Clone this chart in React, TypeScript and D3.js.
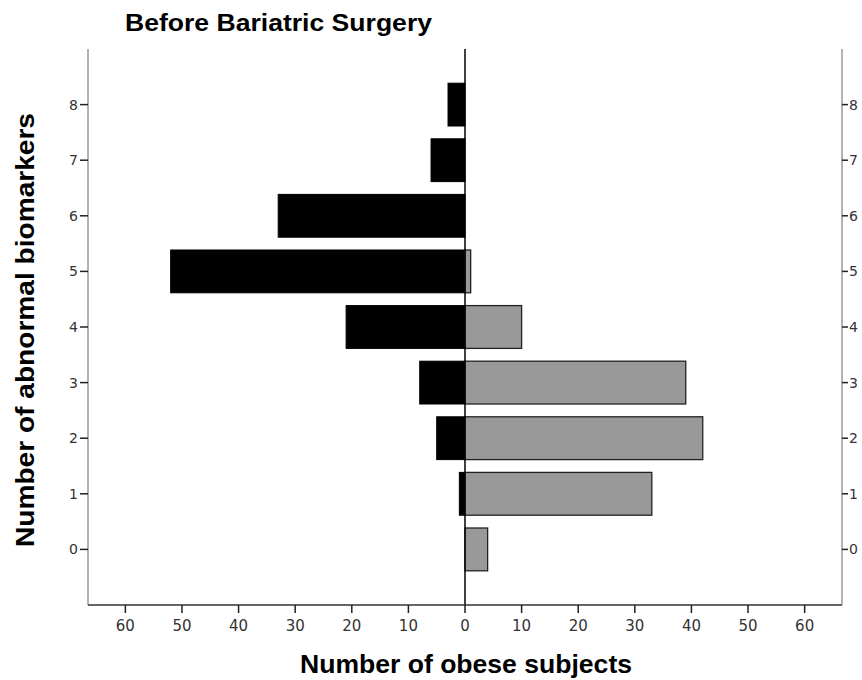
import React from "react";
import * as d3 from "d3";

// number of abnormal biomarkers (y categories)
const biomarkers = [0, 1, 2, 3, 4, 5, 6, 7, 8];
// black bars, drawn to the left
const blackCounts = [0, 1, 5, 8, 21, 52, 33, 6, 3];
// grey bars, drawn to the right
const greyCounts = [4, 33, 42, 39, 10, 1, 0, 0, 0];
const xTicks = [-60, -50, -40, -30, -20, -10, 0, 10, 20, 30, 40, 50, 60];

const width = 862;
const height = 680;
const left = 88;
const right = 842;
const top = 49;
const bottom = 605;
const barHalf = 0.385;

const tickFont = "'DejaVu Sans', sans-serif";
const labelFont = "'Liberation Sans', Arial, sans-serif";

const App = () => {
  const x = d3.scaleLinear().domain([-66.6, 66.6]).range([left, right]);
  const y = d3.scaleLinear().domain([-1, 9]).range([bottom, top]);

  return (
    <svg
      width={width}
      height={height}
      style={{ position: "absolute", left: 0, top: 0, background: "#fff" }}
    >
      <text
        x={125}
        y={31}
        fontFamily={labelFont}
        fontWeight="bold"
        fontSize={24}
        textLength={307}
        lengthAdjust="spacingAndGlyphs"
      >
        Before Bariatric Surgery
      </text>

      {/* frame */}
      <line x1={left} x2={left} y1={top} y2={bottom} stroke="#999" strokeWidth={1.5} />
      <line x1={right} x2={right} y1={top} y2={bottom} stroke="#999" strokeWidth={1.5} />

      {/* bars */}
      {biomarkers.map((b, i) =>
        blackCounts[i] > 0 ? (
          <rect
            key={"b" + b}
            x={x(-blackCounts[i])}
            y={y(b + barHalf)}
            width={x(0) - x(-blackCounts[i])}
            height={y(b - barHalf) - y(b + barHalf)}
            fill="#000"
            stroke="#000"
            strokeWidth={1}
          />
        ) : null
      )}
      {biomarkers.map((b, i) =>
        greyCounts[i] > 0 ? (
          <rect
            key={"g" + b}
            x={x(0)}
            y={y(b + barHalf)}
            width={x(greyCounts[i]) - x(0)}
            height={y(b - barHalf) - y(b + barHalf)}
            fill="#999"
            stroke="#222"
            strokeWidth={1.3}
          />
        ) : null
      )}

      {/* zero line */}
      <line x1={x(0)} x2={x(0)} y1={top} y2={bottom} stroke="#000" strokeWidth={1.5} />
      <line x1={left} x2={right} y1={bottom} y2={bottom} stroke="#333" strokeWidth={1.5} />

      {/* x axis */}
      {xTicks.map((t) => (
        <g key={t} transform={`translate(${x(t)},0)`}>
          <line y1={bottom} y2={bottom + 8} stroke="#222" strokeWidth={1.5} />
          <text
            y={631}
            textAnchor="middle"
            fontFamily={tickFont}
            fontSize={15}
            fill="#333"
          >
            {Math.abs(t)}
          </text>
        </g>
      ))}

      {/* y axes, both sides */}
      {biomarkers.map((b) => (
        <g key={b} transform={`translate(0,${y(b)})`}>
          <line x1={left - 8} x2={left} stroke="#222" strokeWidth={1.5} />
          <text
            x={left - 10}
            dy="0.36em"
            textAnchor="end"
            fontFamily={tickFont}
            fontSize={14}
            fill="#333"
          >
            {b}
          </text>
          <line x1={right} x2={right + 6} stroke="#222" strokeWidth={1.5} />
          <text
            x={right + 7}
            dy="0.36em"
            fontFamily={tickFont}
            fontSize={14}
            fill="#333"
          >
            {b}
          </text>
        </g>
      ))}

      <text
        x={300}
        y={673}
        fontFamily={labelFont}
        fontWeight="bold"
        fontSize={25}
        textLength={332}
        lengthAdjust="spacingAndGlyphs"
      >
        Number of obese subjects
      </text>
      <text
        transform={`translate(34,547) rotate(-90)`}
        fontFamily={labelFont}
        fontWeight="bold"
        fontSize={26}
        textLength={434}
        lengthAdjust="spacingAndGlyphs"
      >
        Number of abnormal biomarkers
      </text>
    </svg>
  );
};

export default App;
